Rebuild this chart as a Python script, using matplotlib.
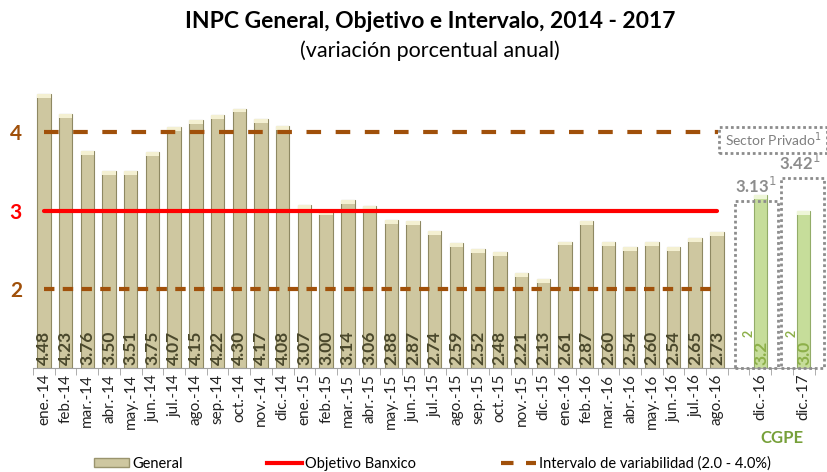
import matplotlib
matplotlib.use("Agg")
import matplotlib.pyplot as plt
from matplotlib.patches import Rectangle
from matplotlib.lines import Line2D
from matplotlib.patches import Patch

plt.rcParams['font.family'] = ['Lato', 'DejaVu Sans']

months = ["ene.-14", "feb.-14", "mar.-14", "abr.-14", "may.-14", "jun.-14", "jul.-14", "ago.-14",
          "sep.-14", "oct.-14", "nov.-14", "dic.-14", "ene.-15", "feb.-15", "mar.-15", "abr.-15",
          "may.-15", "jun.-15", "jul.-15", "ago.-15", "sep.-15", "oct.-15", "nov.-15", "dic.-15",
          "ene.-16", "feb.-16", "mar.-16", "abr.-16", "may.-16", "jun.-16", "jul.-16", "ago.-16"]
general = [4.48, 4.23, 3.76, 3.50, 3.51, 3.75, 4.07, 4.15, 4.22, 4.30, 4.17, 4.08,
           3.07, 3.00, 3.14, 3.06, 2.88, 2.87, 2.74, 2.59, 2.52, 2.48, 2.21, 2.13,
           2.61, 2.87, 2.60, 2.54, 2.60, 2.54, 2.65, 2.73]
forecast_cats = ["dic.-16", "dic.-17"]
cgpe = [3.2, 3.0]
sector_privado = [3.13, 3.42]
objetivo = 3.0
intervalo = [2.0, 4.0]

fig = plt.figure(figsize=(8.27, 4.72), dpi=100)
ax = fig.add_axes([0.040, 0.220, 0.945, 0.600])

n = len(months)
xg = list(range(n))
xf = [n + 1, n + 3]

ymin, ymax = 1.0, 4.6
bar_w = 0.62
ax.bar(xg, [v - ymin for v in general], bottom=ymin, width=bar_w,
       color="#CEC7A0", edgecolor="#8E8862", linewidth=0.8, zorder=2)
ax.bar(xf, [v - ymin for v in cgpe], bottom=ymin, width=bar_w,
       color="#C6DD9A", edgecolor="#92AC68", linewidth=0.8, zorder=2)

# light caps on bar tops
for x, v in zip(xg, general):
    ax.add_patch(Rectangle((x - bar_w / 2, v - 0.05), bar_w, 0.05,
                           color="#F4F0D2", zorder=3, lw=0))
for x, v in zip(xf, cgpe):
    ax.add_patch(Rectangle((x - bar_w / 2, v - 0.05), bar_w, 0.05,
                           color="#EEF6D8", zorder=3, lw=0))

# reference lines
ax.plot([0, n - 1], [objetivo, objetivo], color="#FF0000", lw=3, zorder=4,
        solid_capstyle="round")
ax.plot([0, n - 1 + 0.05], [intervalo[1]] * 2, color="#A0500A", lw=3,
        dashes=(3.5, 3.5), zorder=4, solid_capstyle="round")
ax.plot([0, n - 1], [intervalo[0]] * 2, color="#A0500A", lw=3,
        dashes=(2.5, 2), zorder=4)

# value labels
for x, v in zip(xg, general):
    ax.text(x, ymin + 0.04, f"{v:.2f}", rotation=90, ha="center", va="bottom",
            fontsize=12.5, fontweight="bold", color="#4A482C", zorder=5)
for x, v in zip(xf, cgpe):
    ax.text(x + 0.05, ymin + 0.04, f"{v:.1f}", rotation=90, ha="center", va="bottom",
            fontsize=12.5, fontweight="bold", color="#8DB04A", zorder=5)
    ax.text(x - 0.55, ymin + 0.4, "2", rotation=90, ha="center", va="bottom",
            fontsize=9, fontweight="bold", color="#8DB04A", zorder=5)

# dotted boxes around private-sector forecasts
box_kw = dict(fill=False, edgecolor="#8C8C8C", lw=2, linestyle=(0, (1, 1)), zorder=6,
              clip_on=False)
box_left = [-1.17, -1.05]
for x, v, bl in zip(xf, sector_privado, box_left):
    ax.add_patch(Rectangle((x + bl, ymin), 1.98, v - ymin, **box_kw))
    ax.text(x - 0.2, v + 0.06, f"{v:.2f}$^1$", ha="center", va="bottom",
            fontsize=12, fontweight="bold", color="#8C8C8C", zorder=7, clip_on=False)
ax.add_patch(Rectangle((31.1, 3.74), 4.95, 0.33, **box_kw))
ax.text(33.6, 3.905, "Sector Privado$^1$", ha="center", va="center",
        fontsize=10, color="#7F7F7F", zorder=7, clip_on=False)

ax.set_xlim(-0.5, n + 3.5)
ax.set_ylim(ymin, ymax)

ticks = xg + xf
ax.set_xticks(ticks)
ax.set_xticklabels(months + forecast_cats, rotation=90, fontsize=11, color="#222222")
ax.tick_params(axis="x", length=0, pad=4)
ax.set_xticks([x + 0.5 for x in range(-1, n + 4)], minor=True)
ax.tick_params(axis="x", which="minor", length=5, color="#A0A0A0", direction="out")

ax.set_yticks([2, 3, 4])
ax.set_yticklabels(["2", "3", "4"], fontsize=15, fontweight="bold")
for lbl, c in zip(ax.get_yticklabels(), ["#A0500A", "#FF0000", "#A0500A"]):
    lbl.set_color(c)
ax.tick_params(axis="y", length=0, pad=8)

for s in ["top", "right", "left"]:
    ax.spines[s].set_visible(False)
ax.spines["bottom"].set_color("#A0A0A0")

fig.text(0.52, 0.955, "INPC General, Objetivo e Intervalo, 2014 - 2017", ha="center",
         va="center", fontsize=16.5, fontweight="bold", color="#000000")
fig.text(0.52, 0.893, "(variación porcentual anual)", ha="center", va="center",
         fontsize=15.5, color="#000000")
fig.text(0.945, 0.073, "CGPE", ha="center", va="center", fontsize=12,
         fontweight="bold", color="#77A03A")

handles = [Patch(facecolor="#CEC7A0", edgecolor="#9A946E"),
           Line2D([0], [0], color="#FF0000", lw=3),
           Line2D([0], [0], color="#A0500A", lw=3, dashes=(3, 3))]
labels = ["General", "Objetivo Banxico", "Intervalo de variabilidad (2.0 - 4.0%)"]
fig.legend(handles, labels, loc="center", bbox_to_anchor=(0.523, 0.018), ncol=3,
           frameon=False, fontsize=10.5, columnspacing=5.8, handlelength=2.4,
           handletextpad=0.2, handleheight=0.6)

fig.savefig("out.png", dpi=100)
